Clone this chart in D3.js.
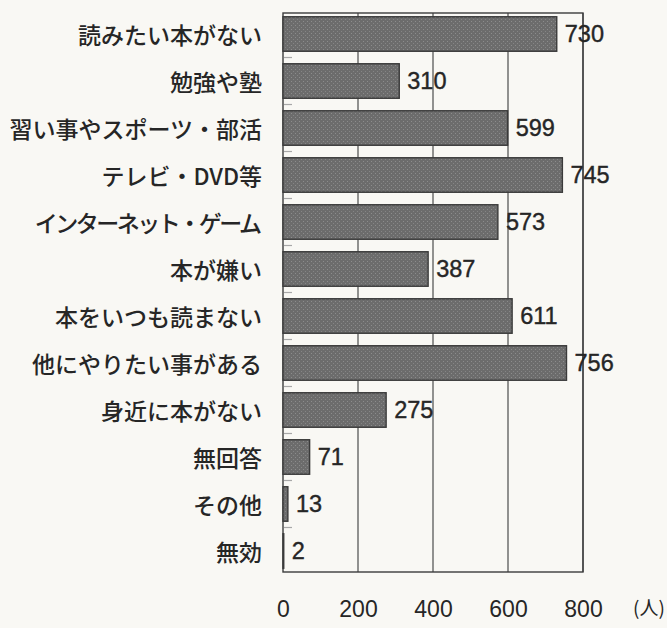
<!DOCTYPE html>
<html>
<head>
<meta charset="utf-8">
<script src="https://cdn.jsdelivr.net/npm/d3@7"></script>
<style>
  html, body { margin: 0; padding: 0; background: #f9f8f4; }
  svg { display: block; }
</style>
</head>
<body>
<svg id="chart" width="667" height="628"></svg>
<script>
// Reasons for not reading books (number of respondents)
const categories = [
  "読みたい本がない", "勉強や塾", "習い事やスポーツ・部活", "テレビ・DVD等",
  "インターネット・ゲーム", "本が嫌い", "本をいつも読まない", "他にやりたい事がある",
  "身近に本がない", "無回答", "その他", "無効"
];
const counts = [730, 310, 599, 745, 573, 387, 611, 756, 275, 71, 13, 2];
const tickValues = [0, 200, 400, 600, 800];
const unitLabel = "(人)";

const svg = d3.select("#chart");
const margin = { left: 283, right: 84, top: 13, bottom: 56 };
const W = 667, H = 628;
const plotW = W - margin.left - margin.right;
const plotH = H - margin.top - margin.bottom;
const ink = "#262626";

const x = d3.scaleLinear().domain([0, 800]).range([0, plotW]);
const y = d3.scaleBand().domain(categories).range([0, plotH]).paddingInner(0.266).paddingOuter(0.08);

// speckled grey fill for the bars
const defs = svg.append("defs");
const pat = defs.append("pattern")
  .attr("id", "dots").attr("patternUnits", "userSpaceOnUse")
  .attr("width", 4).attr("height", 4);
pat.append("rect").attr("width", 4).attr("height", 4).attr("fill", "#6c6c6c");
pat.append("rect").attr("x", 0).attr("y", 0).attr("width", 1).attr("height", 1).attr("fill", "#8c8c8c");
pat.append("rect").attr("x", 2).attr("y", 2).attr("width", 1).attr("height", 1).attr("fill", "#858585");

const g = svg.append("g").attr("transform", `translate(${margin.left},${margin.top})`);

// vertical grid lines and frame
g.append("g")
  .selectAll("line")
  .data(tickValues.slice(1))
  .join("line")
  .attr("x1", d => x(d)).attr("x2", d => x(d))
  .attr("y1", 0).attr("y2", plotH)
  .attr("stroke", "#3c3c3c").attr("stroke-width", 1.1);

g.append("rect")
  .attr("x", 0).attr("y", 0).attr("width", plotW).attr("height", plotH)
  .attr("fill", "none").attr("stroke", "#3c3c3c").attr("stroke-width", 1.4);

// bars
g.append("g")
  .selectAll("rect")
  .data(counts)
  .join("rect")
  .attr("x", 0)
  .attr("y", (d, i) => y(categories[i]))
  .attr("width", d => x(d))
  .attr("height", y.bandwidth())
  .attr("fill", "url(#dots)")
  .attr("stroke", "#3a3a3a")
  .attr("stroke-width", 1.4);

// short inward ticks between categories
g.append("g")
  .selectAll("line")
  .data(categories.slice(1))
  .join("line")
  .attr("x1", 1).attr("x2", 9)
  .attr("y1", d => y(d) - y.step() * y.paddingInner() / 2)
  .attr("y2", d => y(d) - y.step() * y.paddingInner() / 2)
  .attr("stroke", "#a8a8a8").attr("stroke-width", 1.2);

// value labels
g.append("g")
  .selectAll("text")
  .data(counts)
  .join("text")
  .attr("x", d => x(d) + 8)
  .attr("y", (d, i) => y(categories[i]) + y.bandwidth() / 2)
  .attr("dy", "0.36em")
  .attr("font-family", "'Liberation Sans', Arial, sans-serif")
  .attr("font-size", 23.5)
  .attr("fill", ink)
  .attr("stroke", ink).attr("stroke-width", 0.4)
  .text(d => d);

// category labels (long katakana label set a little tighter)
const tight = "インターネット・ゲーム";
const yAxis = d3.axisLeft(y).tickSize(0).tickPadding(21);
const ya = g.append("g").call(yAxis);
ya.select(".domain").remove();
ya.selectAll("text")
  .attr("dy", "0.42em")
  .attr("dx", d => d === tight ? -2.5 : 0)
  .attr("font-family", "'Noto Sans CJK JP', sans-serif")
  .attr("font-weight", 500)
  .attr("font-size", 23)
  .attr("letter-spacing", d => d === tight ? -2.5 : 0)
  .attr("fill", ink);

// x axis tick labels
const xAxis = d3.axisBottom(x).tickValues(tickValues).tickSize(0).tickPadding(29);
const xa = g.append("g").attr("transform", `translate(0,${plotH})`).call(xAxis);
xa.select(".domain").remove();
xa.selectAll("text")
  .attr("font-family", "'Liberation Sans', Arial, sans-serif")
  .attr("font-size", 23)
  .attr("fill", ink);

g.append("text")
  .attr("x", x(800) + 50)
  .attr("y", plotH + 29)
  .attr("dy", "0.75em")
  .attr("font-family", "'Noto Sans CJK JP', sans-serif")
  .attr("font-size", 19)
  .attr("fill", ink)
  .text(unitLabel);
</script>
</body>
</html>
